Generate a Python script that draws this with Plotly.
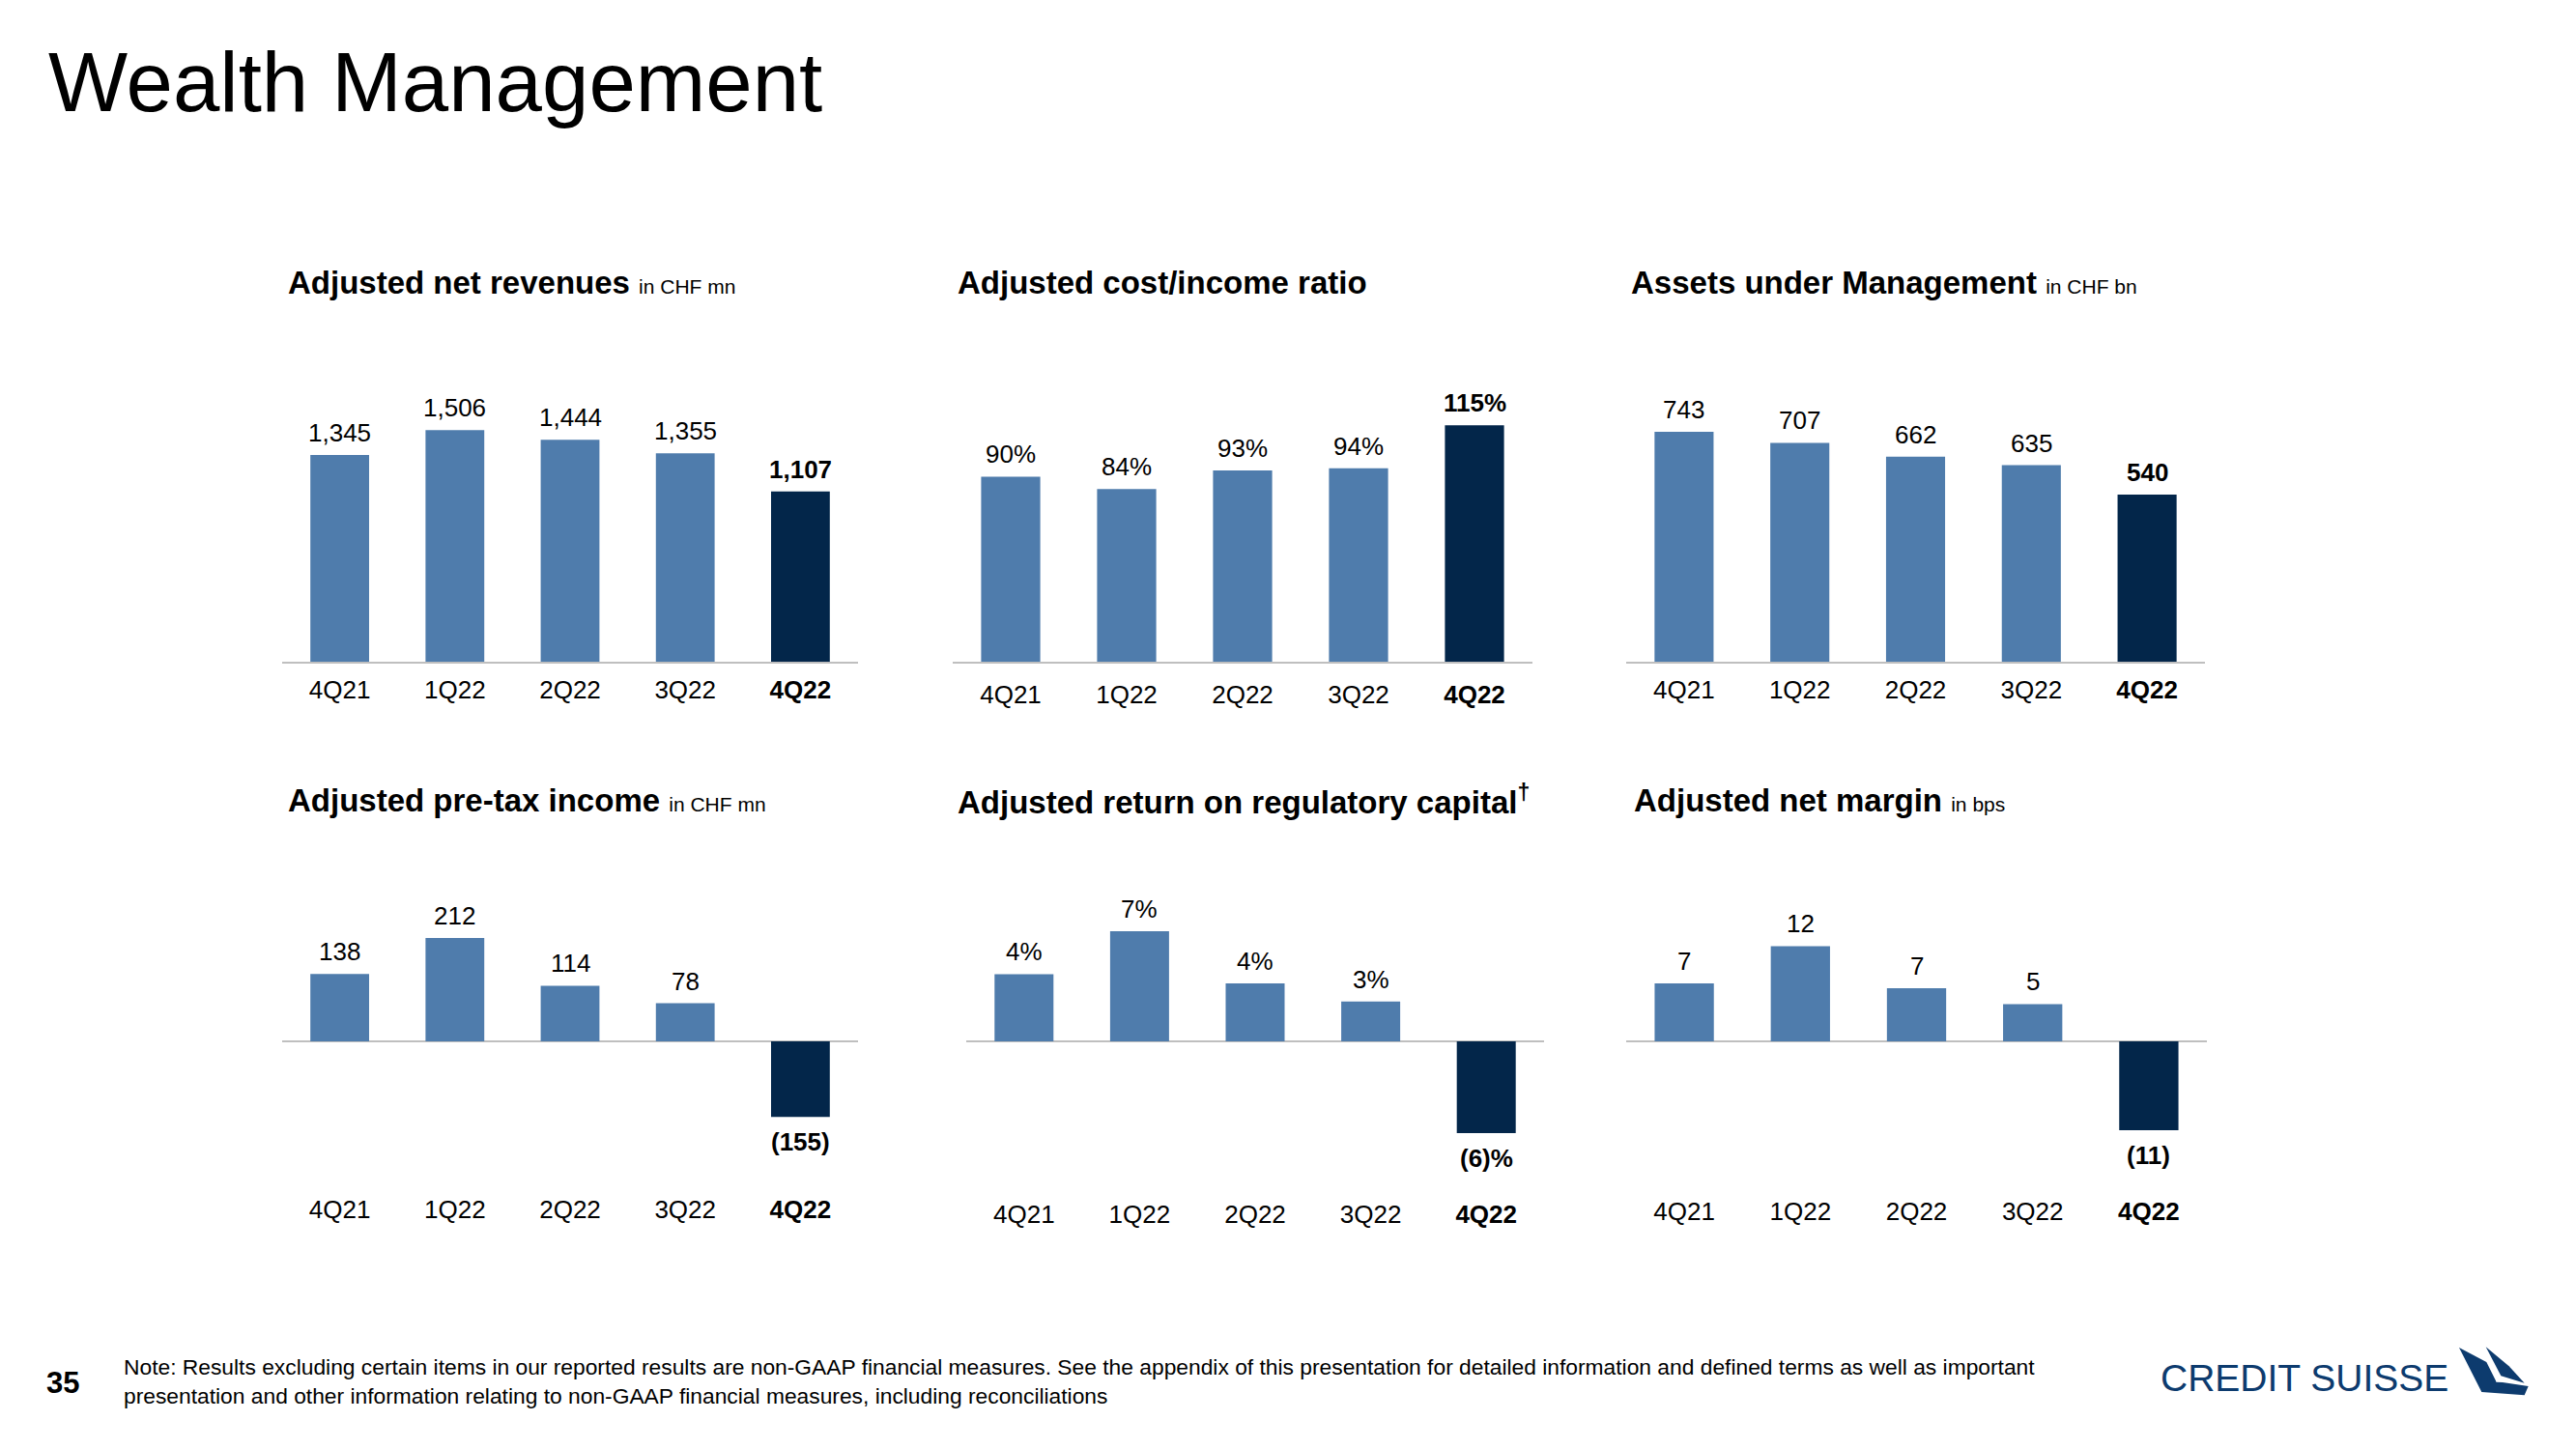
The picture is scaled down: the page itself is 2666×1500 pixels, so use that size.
import plotly.graph_objects as go

W, H = 2666, 1500

# ---------------- data ----------------
quarters = ["4Q21", "1Q22", "2Q22", "3Q22", "4Q22"]

net_revenues = [1345, 1506, 1444, 1355, 1107]
net_revenues_labels = ["1,345", "1,506", "1,444", "1,355", "1,107"]

cost_income = [90, 84, 93, 94, 115]
cost_income_labels = ["90%", "84%", "93%", "94%", "115%"]

aum = [743, 707, 662, 635, 540]
aum_labels = ["743", "707", "662", "635", "540"]

pretax_income = [138, 212, 114, 78, -155]
pretax_income_labels = ["138", "212", "114", "78", "(155)"]

return_reg_capital = [4.4, 7.2, 3.8, 2.6, -6.0]
return_reg_capital_labels = ["4%", "7%", "4%", "3%", "(6)%"]

net_margin = [7.3, 12.0, 6.7, 4.7, -11.2]
net_margin_labels = ["7", "12", "7", "5", "(11)"]

LIGHT = "#4F7CAC"
DARK = "#03264A"
GRAY = "#BFBFBF"
FONT = "Liberation Sans, Arial, Helvetica, sans-serif"


def px_x(x):
    return x / W


def px_y(y):
    return 1 - y / H


panels = [
    dict(title="<b>Adjusted net revenues</b> <span style='font-size:21px'>in CHF mn</span>",
         vals=net_revenues, labels=net_revenues_labels, xd=(292, 888), row=1,
         yr=[0, 2136], tx=296, so=5),
    dict(title="<b>Adjusted cost/income ratio</b>",
         vals=cost_income, labels=cost_income_labels, xd=(986, 1586), row=1,
         yr=[0, 159.7], tx=989, so=10),
    dict(title="<b>Assets under Management</b> <span style='font-size:21px'>in CHF bn</span>",
         vals=aum, labels=aum_labels, xd=(1683, 2282), row=1,
         yr=[0, 1061], tx=1686, so=5),
    dict(title="<b>Adjusted pre-tax income</b> <span style='font-size:21px'>in CHF mn</span>",
         vals=pretax_income, labels=pretax_income_labels, xd=(292, 888), row=2,
         yr=[-285, 352.3], tx=296, so=12),
    dict(title="<b>Adjusted return on regulatory capital<sup>†</sup></b>",
         vals=return_reg_capital, labels=return_reg_capital_labels, xd=(1000, 1598), row=2,
         yr=[-9.10, 11.25], tx=989, so=17),
    dict(title="<b>Adjusted net margin</b> <span style='font-size:21px'>in bps</span>",
         vals=net_margin, labels=net_margin_labels, xd=(1683, 2284), row=2,
         yr=[-17.52, 21.66], tx=1689, so=14),
]

row_dom = {1: (345, 685), 2: (900, 1222)}
title_y = {1: 292, 2: 828}

fig = go.Figure()
annotations = []
layout_axes = {}

for i, p in enumerate(panels, start=1):
    xa = "x" if i == 1 else f"x{i}"
    ya = "y" if i == 1 else f"y{i}"
    colors = [LIGHT] * (len(quarters) - 1) + [DARK]
    fig.add_trace(go.Bar(
        x=quarters, y=p["vals"], marker=dict(color=colors, line=dict(width=0)),
        width=0.51, xaxis=xa, yaxis=ya, showlegend=False, hoverinfo="skip",
    ))
    top, bot = row_dom[p["row"]]
    xkey = "xaxis" if i == 1 else f"xaxis{i}"
    ykey = "yaxis" if i == 1 else f"yaxis{i}"
    ticktext = quarters[:-1] + [f"<b>{quarters[-1]}</b>"]
    layout_axes[xkey] = dict(
        domain=[px_x(p["xd"][0]), px_x(p["xd"][1])], anchor=ya,
        type="category", range=[-0.5, 4.5], tickvals=quarters, ticktext=ticktext,
        showgrid=False, zeroline=False, ticks="", ticklabelstandoff=p["so"],
        showline=(p["row"] == 1), linecolor=GRAY, linewidth=1.5,
        tickfont=dict(size=26, color="#000000", family=FONT),
        fixedrange=True,
    )
    layout_axes[ykey] = dict(
        domain=[px_y(bot), px_y(top)], anchor=xa, range=p["yr"],
        showgrid=False, showticklabels=False, ticks="", showline=False,
        zeroline=(p["row"] == 2), zerolinecolor=GRAY, zerolinewidth=1.5,
        fixedrange=True,
    )
    for j, (q, v, lab) in enumerate(zip(quarters, p["vals"], p["labels"])):
        txt = f"<b>{lab}</b>" if j == len(quarters) - 1 else lab
        annotations.append(dict(
            x=q, y=v, xref=xa, yref=ya, text=txt, showarrow=False,
            yanchor="bottom" if v >= 0 else "top",
            yshift=6 if v >= 0 else -9,
            font=dict(size=26, color="#000000", family=FONT),
        ))
    annotations.append(dict(
        x=px_x(p["tx"]), y=px_y(title_y[p["row"]]), xref="paper", yref="paper",
        xanchor="left", yanchor="middle", text=p["title"], showarrow=False,
        font=dict(size=33, color="#000000", family=FONT),
    ))

# Page title
annotations.append(dict(
    x=px_x(48), y=px_y(85), xref="paper", yref="paper", xanchor="left", yanchor="middle",
    text="Wealth Management", showarrow=False,
    font=dict(size=87, color="#000000", family=FONT),
))

# Footer
annotations.append(dict(
    x=px_x(46), y=px_y(1431), xref="paper", yref="paper", xanchor="left", yanchor="middle",
    text="<b>35</b>", showarrow=False, font=dict(size=31, color="#000000", family=FONT),
))
annotations.append(dict(
    x=px_x(126), y=px_y(1415), xref="paper", yref="paper", xanchor="left", yanchor="middle",
    text=("Note: Results excluding certain items in our reported results are non-GAAP financial "
          "measures. See the appendix of this presentation for detailed information and defined "
          "terms as well as important"),
    showarrow=False, font=dict(size=22.8, color="#000000", family=FONT),
))
annotations.append(dict(
    x=px_x(126), y=px_y(1445), xref="paper", yref="paper", xanchor="left", yanchor="middle",
    text="presentation and other information relating to non-GAAP financial measures, including reconciliations",
    showarrow=False, font=dict(size=22.8, color="#000000", family=FONT),
))

# Logo text
LOGO = "#0D3B6E"
annotations.append(dict(
    x=px_x(2234), y=px_y(1426), xref="paper", yref="paper", xanchor="left", yanchor="middle",
    text="CREDIT SUISSE", showarrow=False, font=dict(size=39, color=LOGO, family=FONT),
))


def logo_path(pts):
    coords = [(px_x(2220 + zx / 3), px_y(1385 + zy / 3)) for zx, zy in pts]
    d = "M " + " L ".join(f"{x:.5f},{y:.5f}" for x, y in coords) + " Z"
    return d


shapes = [
    dict(type="path", xref="paper", yref="paper", line=dict(width=0), fillcolor=LOGO,
         path=logo_path([(975, 30), (1060, 75), (1090, 135), (1190, 150), (1178, 178), (1045, 168)])),
    dict(type="path", xref="paper", yref="paper", line=dict(width=0), fillcolor=LOGO,
         path=logo_path([(1058, 28), (1130, 88), (1178, 140), (1105, 118)])),
    dict(type="path", xref="paper", yref="paper", line=dict(width=0), fillcolor="#FFFFFF",
         path=logo_path([(1090, 110), (1125, 137), (1090, 137)])),
]

fig.update_layout(
    width=W, height=H, margin=dict(l=0, r=0, t=0, b=0),
    paper_bgcolor="#FFFFFF", plot_bgcolor="rgba(0,0,0,0)",
    font=dict(family=FONT, color="#000000"),
    annotations=annotations, shapes=shapes, showlegend=False,
    bargap=0.49,
    **layout_axes,
)

fig.write_html("out.html", config={"displayModeBar": False},
               post_script="document.body.style.margin='0px';document.body.style.overflow='hidden';")
